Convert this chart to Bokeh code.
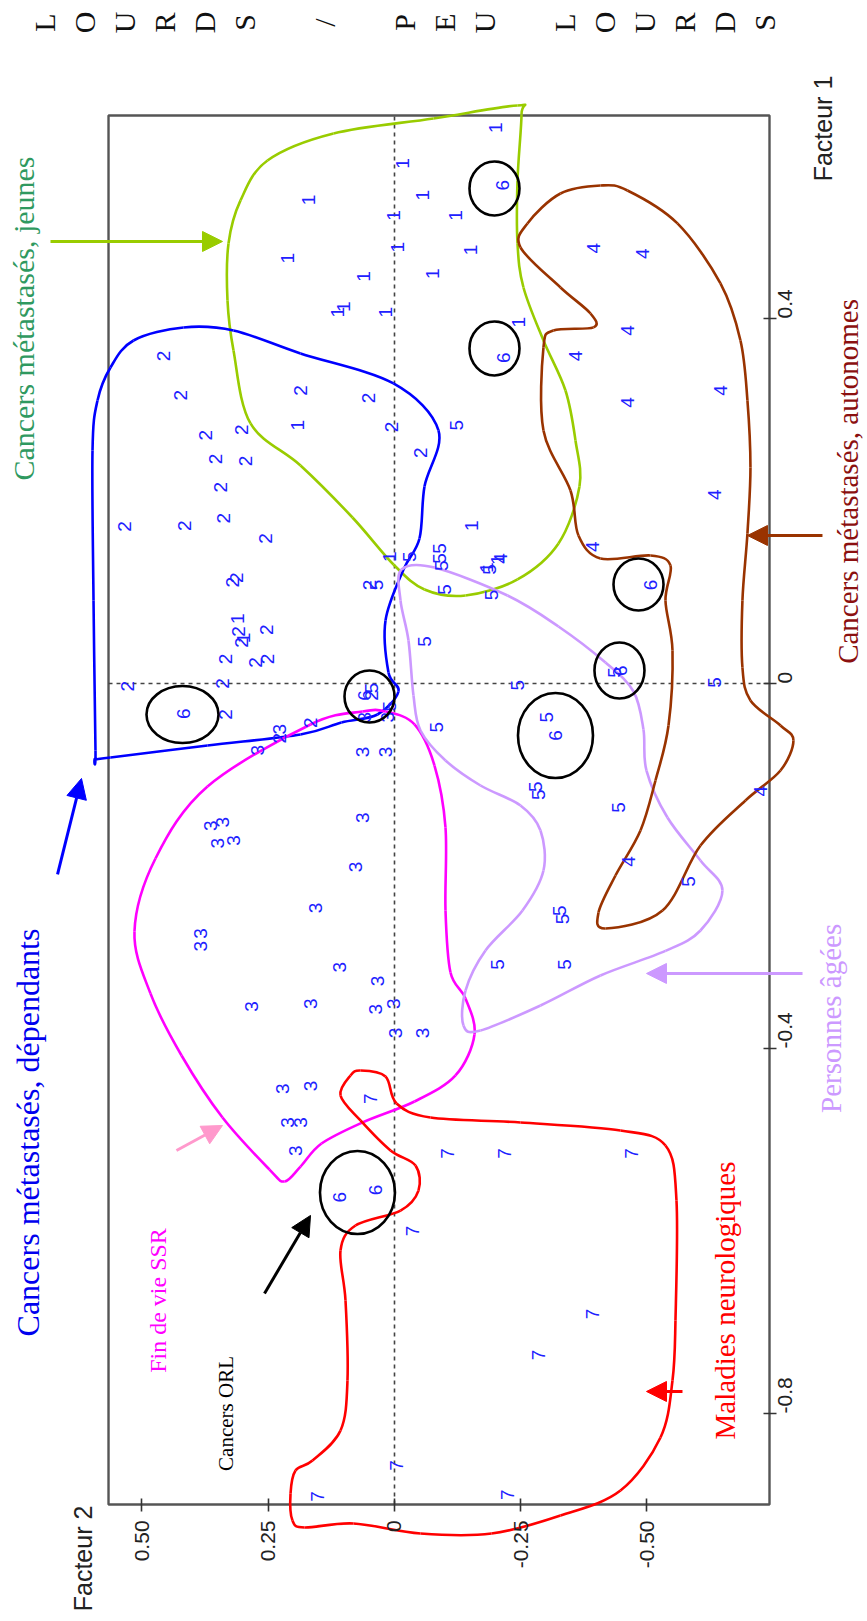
import math
from bokeh.plotting import figure
from bokeh.models import (Range1d, LinearAxis, FixedTicker, Label, Arrow, NormalHead,
                          ColumnDataSource)
from bokeh.core.properties import value
from bokeh.embed import file_html
from bokeh.resources import INLINE

# ---------------- data (Facteur 2 = horizontal, Facteur 1 = vertical) ----------------
F2_TICKS = [0.5, 0.25, 0.0, -0.25, -0.5]
F2_TICK_LABELS = ["0.50", "0.25", "0", "-0.25", "-0.50"]
F1_TICKS = [0.4, 0.0, -0.4, -0.8]
F1_TICK_LABELS = ["0.4", "0", "-0.4", "-0.8"]

# box of the plot (data units)
BOX_F2 = [0.5663, -0.7426]
BOX_F1 = [-0.8997, 0.6225]

C1_F2 = [-0.200, -0.016, -0.055, -0.121, 0.170, 0.002, -0.006, -0.150, 0.212, 0.061, -0.075, 0.113, 0.101, 0.018, -0.246, 0.193, -0.152, 0.010, -0.182, -0.203, 0.311, 0.299]
C1_F1 = [0.609, 0.570, 0.535, 0.513, 0.530, 0.513, 0.478, 0.475, 0.466, 0.446, 0.449, 0.407, 0.413, 0.407, 0.396, 0.283, 0.173, 0.139, 0.127, 0.136, 0.071, 0.050]

C2_F2 = [0.457, 0.424, 0.186, 0.051, 0.375, 0.303, 0.354, 0.295, 0.344, 0.535, 0.416, 0.338, 0.256, 0.313, 0.320, 0.006, -0.051, 0.309, 0.303, 0.254, 0.252, 0.334, 0.275, 0.340, 0.528, 0.334, 0.166, 0.227, 0.045, 0.049]
C2_F1 = [0.359, 0.316, 0.321, 0.313, 0.272, 0.278, 0.246, 0.244, 0.215, 0.172, 0.173, 0.181, 0.159, 0.116, 0.111, 0.281, 0.253, 0.057, 0.045, 0.059, 0.027, 0.027, 0.023, 0.000, -0.003, -0.034, -0.043, -0.060, -0.013, 0.108]

C3_F2 = [0.227, 0.272, 0.059, 0.014, 0.063, 0.018, 0.365, 0.340, 0.319, 0.350, 0.063, 0.078, 0.156, 0.385, 0.385, 0.283, 0.166, 0.109, 0.033, 0.002, 0.037, -0.002, -0.055, 0.166, 0.211, 0.186, 0.221, 0.197]
C3_F1 = [-0.050, -0.073, -0.037, -0.037, -0.075, -0.075, -0.156, -0.152, -0.172, -0.175, -0.147, -0.201, -0.246, -0.274, -0.288, -0.354, -0.351, -0.311, -0.326, -0.351, -0.357, -0.383, -0.383, -0.441, -0.481, -0.481, -0.444, -0.512]

C4_F2 = [-0.394, -0.491, -0.461, -0.358, -0.461, -0.646, -0.633, -0.393, -0.209, -0.725, -0.463]
C4_F1 = [0.477, 0.471, 0.387, 0.359, 0.308, 0.321, 0.207, 0.150, 0.137, -0.118, -0.195]

C5_F2 = [-0.123, -0.090, -0.090, -0.094, -0.029, -0.188, -0.193, -0.100, 0.035, -0.059, -0.301, 0.010, -0.084, -0.244, -0.436, -0.633, -0.279, -0.285, -0.444, -0.582, -0.326, -0.332, -0.203, -0.336, 0.045]
C5_F1 = [0.283, 0.148, 0.137, 0.129, 0.139, 0.125, 0.097, 0.103, 0.108, 0.046, -0.037, -0.025, -0.048, -0.002, 0.012, 0.001, -0.113, -0.122, -0.136, -0.217, -0.249, -0.258, -0.308, -0.308, -0.005]

C6_F2 = [-0.214, -0.216, 0.418, 0.059, -0.319, -0.506, -0.448, 0.109, 0.037]
C6_F1 = [0.546, 0.357, -0.033, -0.013, -0.057, 0.108, 0.014, -0.563, -0.555]

C7_F2 = [0.047, -0.104, -0.217, -0.469, -0.035, -0.393, -0.285, -0.004, 0.152, -0.223]
C7_F1 = [-0.455, -0.515, -0.515, -0.515, -0.600, -0.691, -0.736, -0.857, -0.891, -0.889]

# circles drawn around the "6" points
RING_F2 = [-0.198, -0.198, 0.4198, 0.0495, -0.3188, -0.4832, -0.4455, 0.0733]
RING_F1 = [0.5425, 0.3672, -0.0340, -0.0142, -0.0570, 0.1085, 0.0142, -0.5578]
RING_W = [50, 50, 72, 50, 75, 50, 50, 75]
RING_H = [54, 54, 57, 52, 85, 52, 56, 83]

# hand-drawn group outlines (anchor points, data units)
GREEN_F2 = [-0.2436, -0.2515, -0.2436, -0.2436, -0.2554, -0.2950, -0.3386, -0.3584, -0.3663, -0.3247, -0.2436, -0.1406, -0.0594, 0.0020, 0.0832, 0.1861, 0.2851, 0.3188, 0.3307, 0.3287, 0.3049, 0.2515, 0.1208, -0.0772]
GREEN_F1 = [0.6335, 0.6236, 0.5513, 0.4822, 0.4340, 0.3759, 0.3211, 0.2663, 0.2159, 0.1534, 0.1140, 0.0964, 0.1030, 0.1304, 0.1819, 0.2389, 0.2850, 0.3650, 0.4198, 0.4822, 0.5294, 0.5732, 0.6028, 0.6192]

BLUE_F2 = [0.5624, 0.5168, 0.4178, 0.3188, 0.1861, 0.0020, -0.0871, -0.0594, -0.0495, -0.0178, 0.0178, 0.0119, -0.0079, 0.0337, 0.1050, 0.1861, 0.3703, 0.5624, 0.5921, 0.5921, 0.5960, 0.5980, 0.5881]
BLUE_F1 = [0.3463, 0.3759, 0.3902, 0.3869, 0.3617, 0.3288, 0.2773, 0.2159, 0.1589, 0.1249, 0.0690, 0.0121, -0.0088, -0.0340, -0.0427, -0.0559, -0.0680, -0.0811, -0.0822, -0.0734, 0.0910, 0.2554, 0.3102]

MAGENTA_F2 = [0.0634, 0.1663, 0.3703, 0.4733, 0.5149, 0.4832, 0.4217, 0.3406, 0.2475, 0.2178, 0.1861, 0.1445, 0.0634, -0.0396, -0.1208, -0.1584, -0.1406, -0.1109, -0.1010, -0.1010, -0.0792, -0.0396, 0.0178]
MAGENTA_F1 = [-0.0307, -0.0449, -0.1129, -0.1918, -0.2718, -0.3398, -0.4077, -0.4757, -0.5327, -0.5458, -0.5294, -0.5042, -0.4811, -0.4581, -0.4296, -0.3847, -0.3452, -0.3167, -0.2488, -0.1578, -0.0899, -0.0449, -0.0307]

LAVENDER_F2 = [-0.0139, -0.0792, -0.2238, -0.3247, -0.4178, -0.4733, -0.4930, -0.4990, -0.5405, -0.6059, -0.6494, -0.6059, -0.5366, -0.4079, -0.2891, -0.1703, -0.1366, -0.1406, -0.1802, -0.2535, -0.2950, -0.2891, -0.2495, -0.1703, -0.1010, -0.0515, -0.0376, -0.0277, -0.0119]
LAVENDER_F1 = [0.1249, 0.1271, 0.0964, 0.0625, 0.0230, -0.0088, -0.0504, -0.0954, -0.1469, -0.1940, -0.2269, -0.2707, -0.2931, -0.3200, -0.3529, -0.3803, -0.3748, -0.3365, -0.2926, -0.2488, -0.2050, -0.1611, -0.1337, -0.1118, -0.0844, -0.0515, -0.0132, 0.0471, 0.0910]

BROWN_F2 = [-0.2950, -0.2950, -0.3148, -0.3940, -0.3881, -0.3287, -0.2495, -0.2633, -0.3287, -0.4079, -0.4613, -0.5603, -0.6455, -0.6851, -0.6989, -0.7049, -0.6989, -0.6890, -0.6890, -0.7049, -0.7643, -0.7900, -0.7643, -0.6950, -0.6059, -0.5307, -0.4178, -0.4040, -0.4376, -0.4871, -0.5168, -0.5426, -0.5505, -0.5366, -0.5465, -0.5069, -0.4079, -0.3643, -0.3485]
BROWN_F1 = [0.2773, 0.3683, 0.3869, 0.3902, 0.4055, 0.4340, 0.4779, 0.5042, 0.5370, 0.5458, 0.5403, 0.5042, 0.4384, 0.3759, 0.3102, 0.2367, 0.1644, 0.0910, 0.0175, -0.0186, -0.0460, -0.0625, -0.0954, -0.1282, -0.1776, -0.2488, -0.2685, -0.2510, -0.2104, -0.1611, -0.1063, -0.0460, 0.0362, 0.0910, 0.1293, 0.1403, 0.1370, 0.1622, 0.2115]

RED_F2 = [0.0673, 0.0178, -0.0040, -0.0713, -0.2495, -0.4475, -0.5366, -0.5584, -0.5564, -0.5505, -0.5267, -0.4475, -0.3287, -0.1921, -0.0515, 0.0812, 0.1782, 0.2020, 0.2059, 0.1960, 0.1624, 0.1069, 0.0931, 0.0970, 0.1069, 0.0772, -0.0119, -0.0475, -0.0416, 0.0079, 0.0673, 0.1069, 0.0871]
RED_F1 = [-0.4242, -0.4307, -0.4603, -0.4757, -0.4811, -0.4899, -0.5064, -0.5666, -0.6981, -0.7639, -0.8264, -0.8845, -0.9119, -0.9316, -0.9316, -0.9206, -0.9250, -0.9174, -0.8878, -0.8626, -0.8516, -0.8187, -0.7639, -0.6762, -0.6214, -0.5940, -0.5776, -0.5557, -0.5283, -0.5118, -0.4789, -0.4515, -0.4296]

TOP_TEXT = "LOURDS / PEU LOURDS"

# ---------------- figure ----------------
W, H = 865, 1619
p = figure(width=W, height=H, output_backend="svg", toolbar_location=None,
           x_range=Range1d(0.7802, -0.9327), y_range=Range1d(-1.0258, 0.7485),
           x_axis_location=None, y_axis_location=None,
           min_border_left=0, min_border_top=0, min_border_right=0, min_border_bottom=0)
p.outline_line_color = None
p.grid.visible = False
p.background_fill_color = "white"
p.border_fill_color = "white"

AX_COL = "#333333"
xax = LinearAxis(ticker=FixedTicker(ticks=F2_TICKS),
                 major_label_overrides=dict(zip(F2_TICKS, F2_TICK_LABELS)),
                 fixed_location=BOX_F1[0])
yax = LinearAxis(ticker=FixedTicker(ticks=F1_TICKS),
                 major_label_overrides=dict(zip(F1_TICKS, F1_TICK_LABELS)),
                 fixed_location=BOX_F2[1])
for ax in (xax, yax):
    ax.axis_line_color = None
    ax.major_tick_in = 6
    ax.major_tick_out = 7
    ax.major_tick_line_color = AX_COL
    ax.major_tick_line_width = 1.6
    ax.minor_tick_line_color = None
    ax.major_label_text_font = "Liberation Sans"
    ax.major_label_text_font_size = "21px"
    ax.major_label_text_color = "#222222"
    ax.major_label_orientation = math.pi / 2
    ax.major_label_standoff = 9
p.add_layout(xax, "below")
p.add_layout(yax, "right")

# box
p.quad(left=[BOX_F2[0]], right=[BOX_F2[1]], bottom=[BOX_F1[0]], top=[BOX_F1[1]],
       fill_color=None, line_color="#555555", line_width=2.4)
# dashed zero lines
p.segment(x0=[0, BOX_F2[0]], y0=[BOX_F1[0], 0], x1=[0, BOX_F2[1]], y1=[BOX_F1[1], 0],
          line_color="#444444", line_width=1.6, line_dash="4 4")


def catmull_bezier(xs, ys):
    n = len(xs)
    d = dict(x0=[], y0=[], x1=[], y1=[], cx0=[], cy0=[], cx1=[], cy1=[])
    for i in range(n):
        p0 = (xs[(i - 1) % n], ys[(i - 1) % n])
        p1 = (xs[i], ys[i])
        p2 = (xs[(i + 1) % n], ys[(i + 1) % n])
        p3 = (xs[(i + 2) % n], ys[(i + 2) % n])
        d["x0"].append(p1[0]); d["y0"].append(p1[1])
        d["x1"].append(p2[0]); d["y1"].append(p2[1])
        d["cx0"].append(p1[0] + (p2[0] - p0[0]) / 6); d["cy0"].append(p1[1] + (p2[1] - p0[1]) / 6)
        d["cx1"].append(p2[0] - (p3[0] - p1[0]) / 6); d["cy1"].append(p2[1] - (p3[1] - p1[1]) / 6)
    return ColumnDataSource(d)


for xs, ys, col in [(GREEN_F2, GREEN_F1, "#99cc00"), (BLUE_F2, BLUE_F1, "#0000ff"),
                    (MAGENTA_F2, MAGENTA_F1, "#ff00ff"), (LAVENDER_F2, LAVENDER_F1, "#cc99ff"),
                    (BROWN_F2, BROWN_F1, "#993300"), (RED_F2, RED_F1, "#ff0000")]:
    p.bezier(x0="x0", y0="y0", x1="x1", y1="y1", cx0="cx0", cy0="cy0", cx1="cx1", cy1="cy1",
             source=catmull_bezier(xs, ys), line_color=col, line_width=2.6)

# points
xs, ys, lab = [], [], []
for k, (a, b) in enumerate([(C1_F2, C1_F1), (C2_F2, C2_F1), (C3_F2, C3_F1), (C4_F2, C4_F1),
                            (C5_F2, C5_F1), (C6_F2, C6_F1), (C7_F2, C7_F1)], start=1):
    xs += a; ys += b; lab += [str(k)] * len(a)
p.text(x=xs, y=ys, text=lab, angle=math.pi / 2, text_align="center", text_baseline="middle",
       text_color="#2020ff", text_font=value("Liberation Sans"), text_font_size="19px")

# black rings
p.ellipse(x=RING_F2, y=RING_F1, width=RING_W, height=RING_H, width_units="screen",
          height_units="screen", fill_color=None, line_color="black", line_width=2.6)

# arrows
for (xs0, ys0, xe, ye, col) in [
        (0.6812, 0.4844, 0.3406, 0.4844, "#99cc00"),
        (0.6673, -0.2093, 0.6198, -0.1041, "#0000ff"),
        (-0.8475, 0.1622, -0.6990, 0.1622, "#993300"),
        (-0.8080, -0.3178, -0.4990, -0.3178, "#cc99ff"),
        (-0.5703, -0.7759, -0.4990, -0.7759, "#ff0000"),
        (0.4317, -0.5118, 0.3406, -0.4844, "#ff99cc"),
        (0.2574, -0.6685, 0.1663, -0.5830, "#000000")]:
    p.add_layout(Arrow(end=NormalHead(size=20, fill_color=col, line_color=col),
                       x_start=xs0, y_start=ys0, x_end=xe, y_end=ye,
                       line_color=col, line_width=3))

# group labels
for (txt, x, y, col, size) in [
        ("Cancers métastasés, jeunes", 0.7347, 0.400, "#2f9960", "30px"),
        ("Cancers  métastasés, dépendants", 0.7248, -0.4877, "#0000ee", "32px"),
        ("Cancers métastasés, autonomes", -0.8990, 0.2214, "#8b1010", "29px"),
        ("Personnes âgées", -0.8634, -0.3670, "#cc99ff", "29px"),
        ("Maladies neurologiques", -0.6554, -0.6762, "#ff0000", "29px"),
        ("Fin de vie SSR", 0.4693, -0.6762, "#ff00ff", "24px"),
        ("Cancers ORL", 0.3327, -0.8000, "#000000", "21px")]:
    p.add_layout(Label(x=x, y=y, text=txt, angle=math.pi / 2, text_align="center",
                       text_baseline="middle", text_color=col, text_font="Liberation Serif",
                       text_font_size=size))

# axis titles
p.add_layout(Label(x=-0.8495, y=0.6082, text="Facteur 1", angle=math.pi / 2, text_align="center",
                   text_baseline="middle", text_color="#222222", text_font="Liberation Sans",
                   text_font_size="25px"))
p.add_layout(Label(x=0.6178, y=-0.9589, text="Facteur 2", angle=math.pi / 2, text_align="center",
                   text_baseline="middle", text_color="#222222", text_font="Liberation Sans",
                   text_font_size="25px"))

# vertical title letters
for i, ch in enumerate(TOP_TEXT):
    if ch == " ":
        continue
    p.add_layout(Label(x=0.6931 - 0.0792 * i, y=0.7244, text=ch, angle=math.pi / 2,
                       text_align="center", text_baseline="middle", text_color="#111111",
                       text_font="Liberation Serif", text_font_size="30px"))

open("out.html", "w").write(file_html(p, INLINE))
